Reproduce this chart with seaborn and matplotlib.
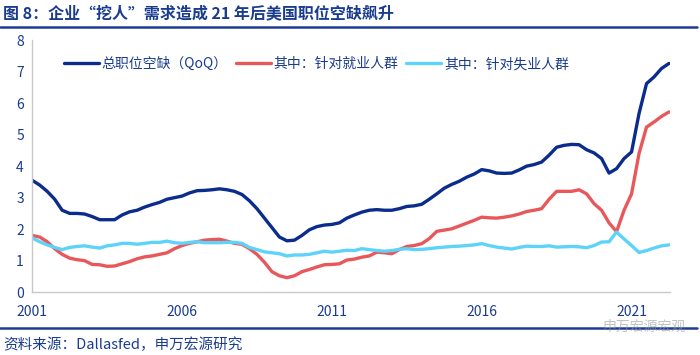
import numpy as np
import pandas as pd
import matplotlib
matplotlib.use("Agg")
import matplotlib.pyplot as plt
from matplotlib.lines import Line2D
import seaborn as sns

# 季度数据：2001Q1 - 2022Q2
start_year = 2001
total_openings = [
    3.55, 3.40, 3.20, 2.95,
    2.60, 2.50, 2.50, 2.48,
    2.40, 2.30, 2.30, 2.30,
    2.45, 2.55, 2.60, 2.70,
    2.78, 2.85, 2.95, 3.00,
    3.05, 3.15, 3.22, 3.23,
    3.25, 3.28, 3.25, 3.20,
    3.10, 2.90, 2.65, 2.35,
    2.05, 1.75, 1.63, 1.65,
    1.80, 1.98, 2.08, 2.13,
    2.15, 2.20, 2.35, 2.45,
    2.54, 2.60, 2.62, 2.60,
    2.60, 2.65, 2.72, 2.74,
    2.79, 2.95, 3.12, 3.30,
    3.42, 3.52, 3.65, 3.75,
    3.89, 3.85, 3.78, 3.77,
    3.78, 3.88, 4.00, 4.05,
    4.13, 4.35, 4.60, 4.66,
    4.69, 4.68, 4.52, 4.42,
    4.24, 3.78, 3.92, 4.24,
    4.45, 5.67, 6.62, 6.83,
    7.10, 7.26,
]
employed_openings = [
    1.80, 1.75, 1.60, 1.38,
    1.20, 1.08, 1.03, 1.00,
    0.88, 0.87, 0.82, 0.83,
    0.90, 0.97, 1.06, 1.12,
    1.15, 1.20, 1.25, 1.38,
    1.48, 1.55, 1.60, 1.65,
    1.67, 1.68, 1.62, 1.55,
    1.52, 1.38, 1.20, 0.95,
    0.65, 0.52, 0.46, 0.52,
    0.65, 0.72, 0.80, 0.87,
    0.88, 0.90, 1.02, 1.05,
    1.11, 1.15, 1.27, 1.25,
    1.22, 1.35, 1.45, 1.48,
    1.54, 1.70, 1.93, 1.97,
    2.01, 2.10, 2.19, 2.28,
    2.38, 2.36, 2.35, 2.38,
    2.42, 2.48, 2.56, 2.60,
    2.65, 2.95, 3.20, 3.20,
    3.20, 3.25, 3.12, 2.81,
    2.60, 2.20, 1.92, 2.60,
    3.12, 4.40, 5.24, 5.40,
    5.58, 5.72,
]
unemployed_openings = [
    1.72, 1.60, 1.50, 1.42,
    1.35, 1.42, 1.45, 1.47,
    1.43, 1.40, 1.47, 1.50,
    1.55, 1.55, 1.52, 1.55,
    1.58, 1.58, 1.62, 1.57,
    1.55, 1.58, 1.60, 1.57,
    1.57, 1.57, 1.58, 1.58,
    1.55, 1.42, 1.35, 1.28,
    1.25, 1.22, 1.15, 1.18,
    1.18, 1.20, 1.25, 1.30,
    1.27, 1.30, 1.33, 1.32,
    1.38, 1.35, 1.32, 1.30,
    1.32, 1.36, 1.38, 1.35,
    1.36, 1.38, 1.41, 1.43,
    1.45, 1.46, 1.48, 1.50,
    1.54, 1.48, 1.43, 1.40,
    1.37, 1.42, 1.46, 1.45,
    1.45, 1.47, 1.43, 1.44,
    1.45, 1.44, 1.41, 1.48,
    1.59, 1.60, 1.91, 1.69,
    1.48, 1.26, 1.32, 1.40,
    1.47, 1.50,
]
series_names = ["总职位空缺（QoQ）", "其中：针对就业人群", "其中：针对失业人群"]
series_colors = ["#0B2C8C", "#E8585A", "#5ED3FA"]
xtick_years = [2001, 2006, 2011, 2016, 2021]
ytick_values = [0, 1, 2, 3, 4, 5, 6, 7, 8]

years = start_year + np.arange(len(total_openings)) / 4.0
df = pd.DataFrame({
    "year": np.tile(years, 3),
    "value": total_openings + employed_openings + unemployed_openings,
    "series": np.repeat(series_names, len(years)),
})

sns.set_style("white")
plt.rcParams["font.family"] = ["Noto Sans CJK SC", "DejaVu Sans"]
text_blue = "#1A3C8E"

fig = plt.figure(figsize=(7, 3.55), dpi=100)
ax = fig.add_axes([0.046, 0.177, 0.911, 0.71])

sns.lineplot(data=df, x="year", y="value", hue="series", hue_order=series_names,
             palette=series_colors, linewidth=2.4, ax=ax)

ax.set_xlim(2001, 2022.28)
ax.set_ylim(0, 8)
ax.set_xticks(xtick_years)
ax.set_xticklabels([str(y) for y in xtick_years])
ax.set_yticks(ytick_values)
ax.set_xlabel("")
ax.set_ylabel("")
ax.tick_params(axis="x", colors=text_blue, labelsize=10, length=4, width=0.8,
               direction="out", color="#C8C8C8", pad=5)
ax.tick_params(axis="y", colors=text_blue, labelsize=10, length=0, pad=6)
for side in ["top", "right"]:
    ax.spines[side].set_visible(False)
for side in ["left", "bottom"]:
    ax.spines[side].set_color("#C8C8C8")
    ax.spines[side].set_linewidth(1.0)

leg = ax.legend(loc="center left", bbox_to_anchor=(0.03, 0.905), ncol=3, frameon=False,
                fontsize=10, handlelength=2.5, handletextpad=0.2, columnspacing=0.6)
for t in leg.get_texts():
    t.set_color(text_blue)

# 标题与分隔线
fig.text(0.004, 0.962, "图 8：企业“挖人”需求造成 21 年后美国职位空缺飙升",
         fontsize=11.5, fontweight="bold", color=text_blue, va="center", ha="left")
fig.add_artist(Line2D([0.0, 0.995], [0.925, 0.925], color="#1F3C95", linewidth=1.8))
fig.add_artist(Line2D([0.0, 0.995], [0.075, 0.075], color="#1F3C95", linewidth=1.8))
fig.text(0.004, 0.028, "资料来源：Dallasfed，申万宏源研究",
         fontsize=10.5, color=text_blue, va="center", ha="left")
fig.text(0.86, 0.079, "申万宏源宏观", fontsize=10, color="#9A9A9A", alpha=0.6,
         va="center", ha="left")

fig.savefig("out.png", dpi=100)
